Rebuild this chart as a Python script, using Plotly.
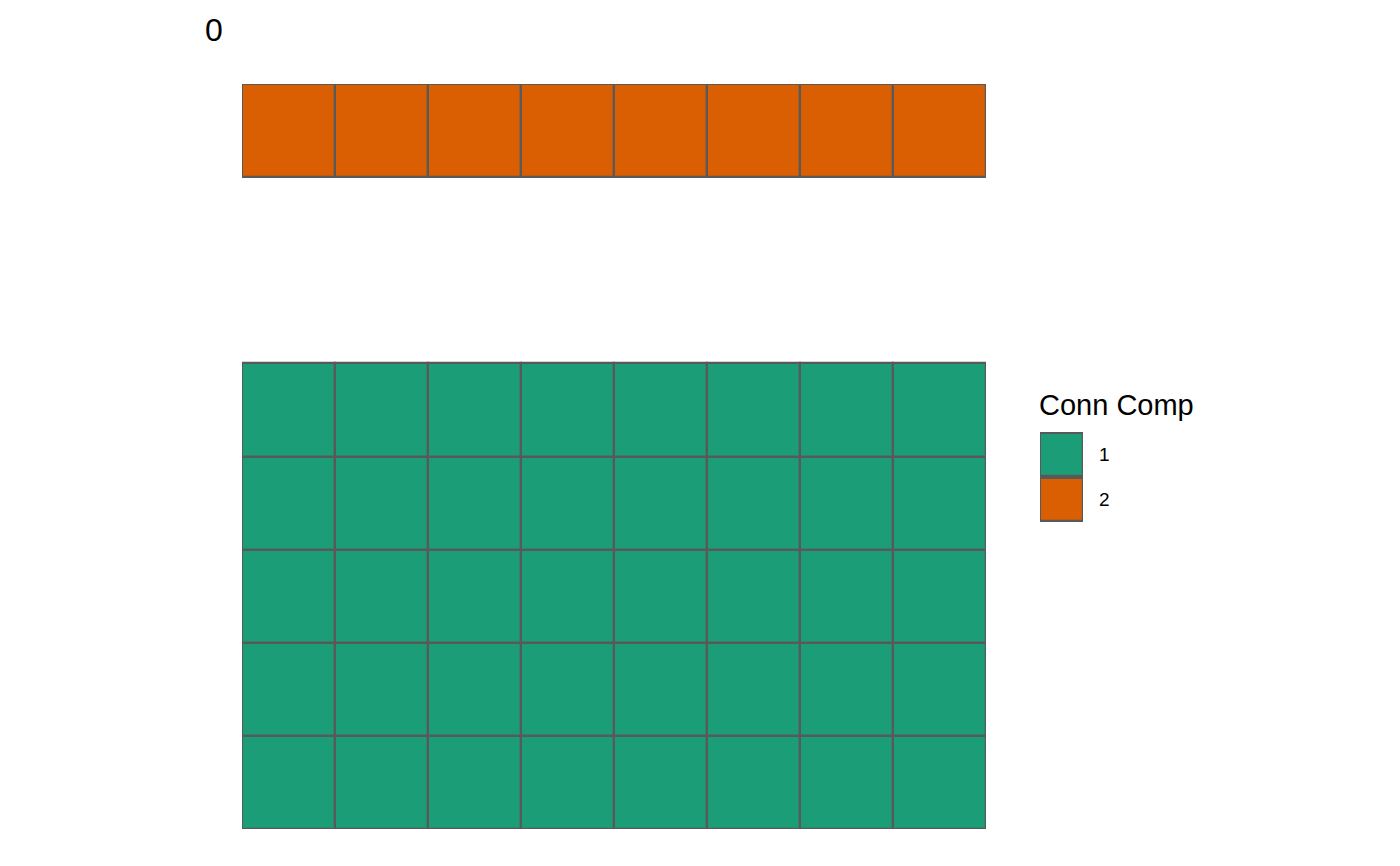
import plotly.graph_objects as go

# ---- data ----
columns = [1, 2, 3, 4, 5, 6, 7, 8]
rows = [1, 2, 3, 4, 5, 6, 7, 8]
# connected component id per cell (row by row, top to bottom); None = empty
conn_comp = [
    [2, 2, 2, 2, 2, 2, 2, 2],
    [None, None, None, None, None, None, None, None],
    [None, None, None, None, None, None, None, None],
    [1, 1, 1, 1, 1, 1, 1, 1],
    [1, 1, 1, 1, 1, 1, 1, 1],
    [1, 1, 1, 1, 1, 1, 1, 1],
    [1, 1, 1, 1, 1, 1, 1, 1],
    [1, 1, 1, 1, 1, 1, 1, 1],
]
components = [1, 2]
comp_colors = {1: "#1B9E77", 2: "#D95F02"}
panel_title = "0"
legend_title = "Conn Comp"

W, H = 1400, 866
EDGE = "#595959"
FONT = "Liberation Sans, Arial, sans-serif"

fig = go.Figure()

for comp in components:
    xs, bases = [], []
    for r, row_vals in zip(rows, conn_comp):
        for c, v in zip(columns, row_vals):
            if v == comp:
                xs.append(c)
                bases.append(r - 0.5)
    fig.add_trace(go.Bar(
        x=xs, y=[1] * len(xs), base=bases, width=1,
        marker=dict(color=comp_colors[comp], line=dict(color=EDGE, width=2.2)),
        name=str(comp), showlegend=False, hoverinfo="skip", cliponaxis=False,
        xaxis="x", yaxis="y",
    ))

# custom legend keys (ggplot-style)
KEY = 0.95
for i, comp in enumerate(components):
    fig.add_trace(go.Bar(
        x=[1], y=[KEY], base=[i + 0.5 + (1 - KEY) / 2], width=1,
        marker=dict(color=comp_colors[comp], line=dict(color=EDGE, width=2.2)),
        showlegend=False, hoverinfo="skip", cliponaxis=False,
        xaxis="x2", yaxis="y2",
    ))
    fig.add_annotation(x=1.5, y=i + 1, xref="x2", yref="y2", text=str(comp),
                       showarrow=False, xanchor="left", xshift=14,
                       font=dict(size=19, color="black", family=FONT))

fig.add_annotation(x=1037 / W, y=1 - 405 / H, xref="paper", yref="paper",
                   text=legend_title, showarrow=False, xanchor="left",
                   yanchor="middle", font=dict(size=29, color="black", family=FONT))

fig.add_annotation(x=214 / W, y=1 - 30 / H, xref="paper", yref="paper",
                   text=panel_title, showarrow=False, xanchor="center",
                   yanchor="middle", font=dict(size=32, color="black", family=FONT))

fig.update_layout(
    width=W, height=H,
    margin=dict(l=0, r=0, t=0, b=0),
    paper_bgcolor="white", plot_bgcolor="white",
    barmode="overlay", bargap=0,
    xaxis=dict(domain=[242 / W, 986 / W], range=[0.5, len(columns) + 0.5],
               visible=False, fixedrange=True),
    yaxis=dict(domain=[1 - 829 / H, 1 - 84 / H], range=[len(rows) + 0.5, 0.5],
               visible=False, fixedrange=True),
    xaxis2=dict(domain=[1040 / W, 1083 / W], range=[0.5, 1.5],
                visible=False, fixedrange=True, anchor="y2"),
    yaxis2=dict(domain=[1 - 522 / H, 1 - 432 / H], range=[2.5, 0.5],
                visible=False, fixedrange=True, anchor="x2"),
)

fig.write_html("out.html")
